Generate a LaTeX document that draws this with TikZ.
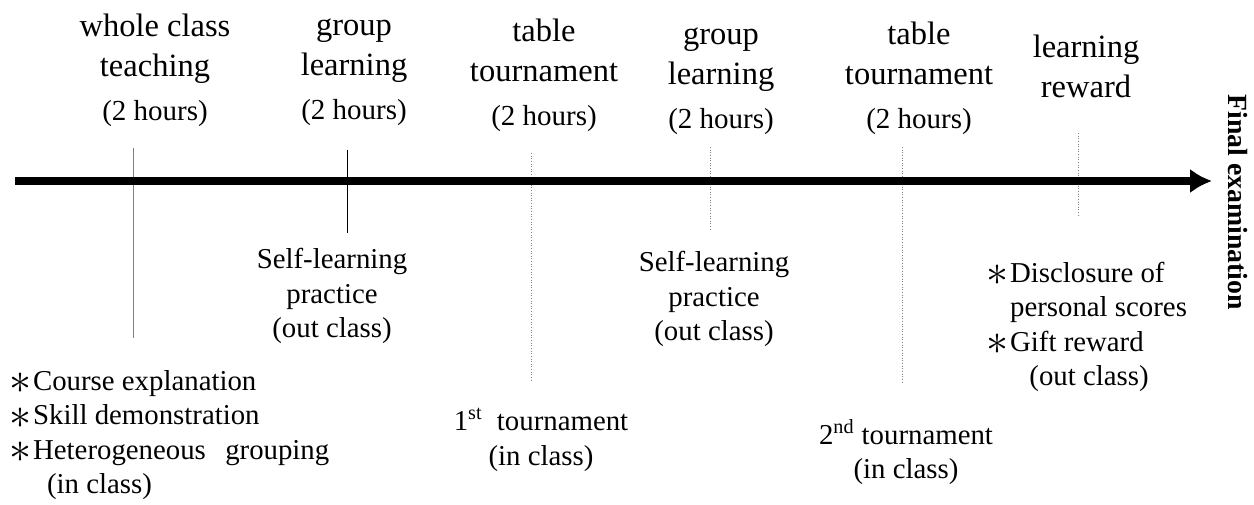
\documentclass[tikz,border=0pt]{standalone}
\usepackage{fontspec}
\setmainfont{Liberation Serif}
\usetikzlibrary{arrows.meta}

\newcommand{\titlefont}{\fontsize{18.5}{22.8}\selectfont}
\newcommand{\hrsfont}{\fontsize{16.5}{19.6}\selectfont}
\newcommand{\bodyfont}{\fontsize{16.4}{19.6}\selectfont}
\newcommand{\itm}{\raisebox{-2pt}{\smash{\scalebox{1.45}{$\ast$}}}\hspace{1pt}}

\tikzset{
  toplabel/.style={align=center,inner sep=0pt,font=\titlefont},
  botlabel/.style={align=center,inner sep=0pt,font=\bodyfont},
  notelabel/.style={align=left,inner sep=0pt,anchor=west,font=\bodyfont},
  finallabel/.style={inner sep=0pt,rotate=-90,font=\fontsize{15.8}{19}\selectfont\bfseries},
  soltick/.style={line width=0.5pt},
  dottick/.style={line width=0.5pt,gray,densely dotted},
  axis/.style={line width=4pt,-{Latex[length=12.5pt,width=14pt]}}
}

\begin{document}
\begin{tikzpicture}[x=0.02cm,y=-0.02cm,>=latex]
\useasboundingbox (0,0) rectangle (1254,504);

\node[toplabel](wct) at (155,70) {whole class\\teaching\\[2pt]{\hrsfont (2 hours)}};
\node[toplabel](gl1) at (354,72) {group\\learning\\[2pt]{\hrsfont (2 hours)}};
\node[toplabel](tt1) at (544,75) {table\\tournament\\[2pt]{\hrsfont (2 hours)}};
\node[toplabel](gl2) at (721,81) {group\\learning\\[2pt]{\hrsfont (2 hours)}};
\node[toplabel](tt2) at (919,78) {table\\tournament\\[2pt]{\hrsfont (2 hours)}};
\node[toplabel](lr) at (1086,66) {learning\\reward};

\coordinate (t1a) at (133,148);
\coordinate (t1b) at (133,338);
\coordinate (t2a) at (347,150);
\coordinate (t2b) at (347,233);
\coordinate (t3a) at (531,153);
\coordinate (t3b) at (531,380);
\coordinate (t4a) at (710,147);
\coordinate (t4b) at (710,230);
\coordinate (t5a) at (902,147);
\coordinate (t5b) at (902,382);
\coordinate (t6a) at (1078,133);
\coordinate (t6b) at (1078,216);

\draw[soltick,gray] (t1a) -- (t1b);
\draw[soltick] (t2a) -- (t2b);
\draw[dottick] (t3a) -- (t3b);
\draw[dottick] (t4a) -- (t4b);
\draw[dottick] (t5a) -- (t5b);
\draw[dottick] (t6a) -- (t6b);

\coordinate (start) at (15,181);
\coordinate (end) at (1212,181);
\draw[axis] (start) -- (end);

\node[finallabel](fe) at (1238,202) {Final examination};

\node[notelabel](ce) at (9,435) {\itm Course explanation\\\itm Skill demonstration\\\itm Heterogeneous\hspace{11pt}grouping\\\hspace*{21.5pt}(in class)};
\node[botlabel](sl1) at (332,296) {Self-learning\\practice\\(out class)};
\node[botlabel](ft) at (541,440) {1\textsuperscript{st}\ \ tournament\\(in class)};
\node[botlabel](sl2) at (714,299) {Self-learning\\practice\\(out class)};
\node[botlabel](st) at (906,452) {2\textsuperscript{nd} tournament\\(in class)};
\node[notelabel](dr) at (986,327) {\itm Disclosure of\\\phantom{\itm}personal scores\\\itm Gift reward\\\hspace*{24.5pt}(out class)};
\end{tikzpicture}
\end{document}
